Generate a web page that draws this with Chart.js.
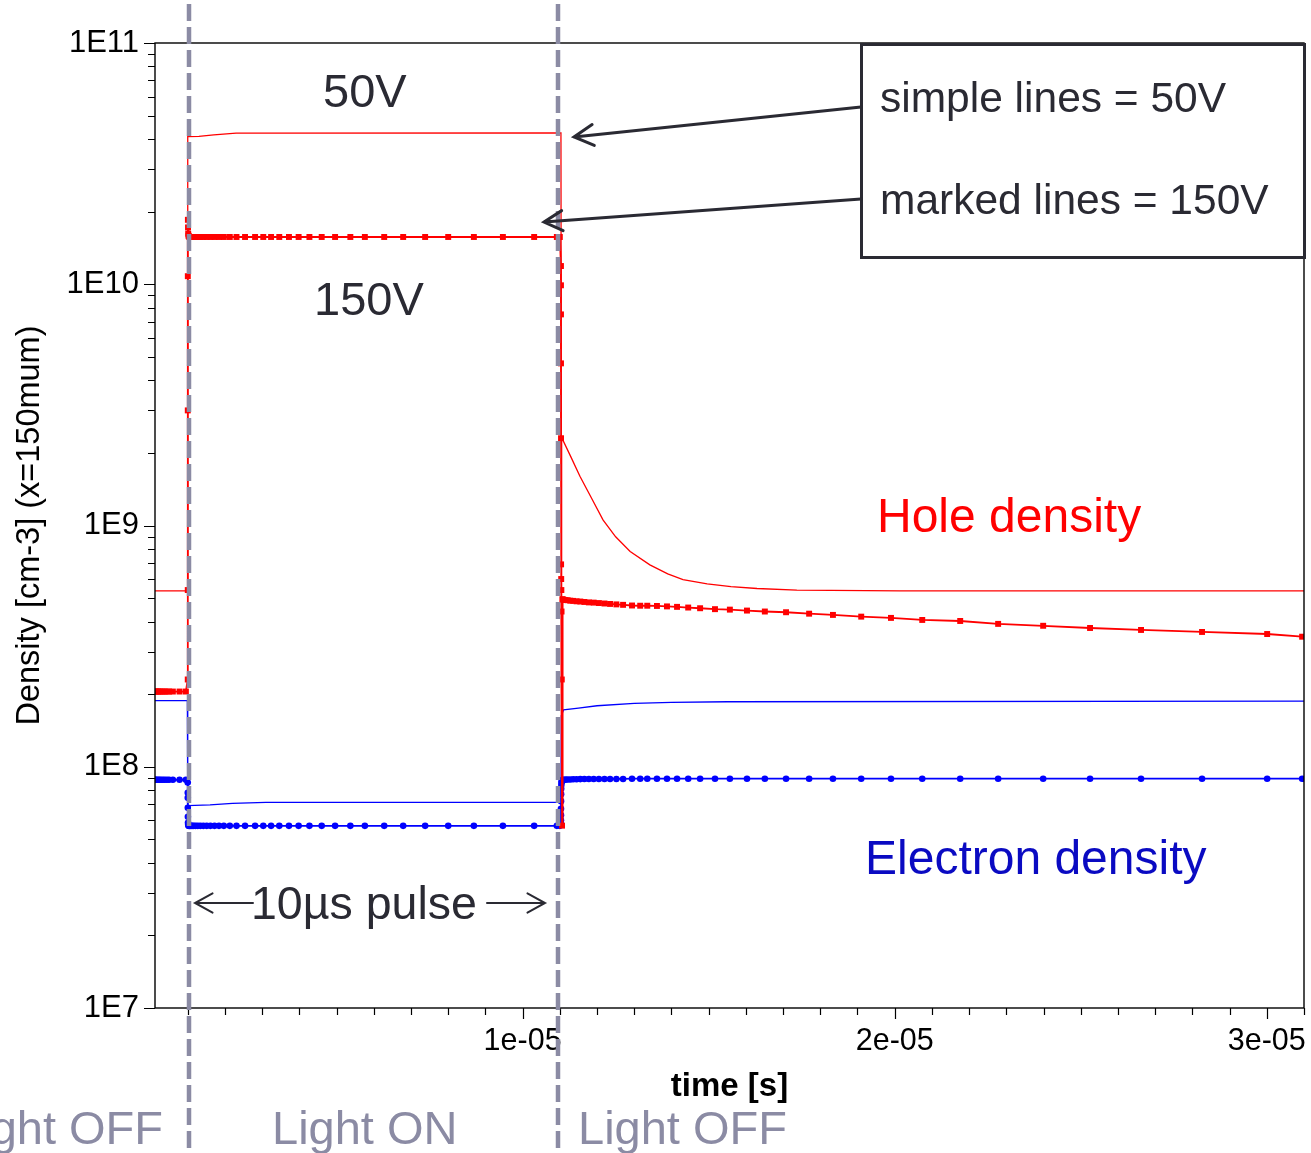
<!DOCTYPE html>
<html>
<head>
<meta charset="utf-8">
<title>Hole and electron density at x = 150 µm during a 10 µs light pulse</title>
<script src="https://cdn.jsdelivr.net/npm/chart.js@4.4.1/dist/chart.umd.min.js"></script>
<style>
  html, body { margin: 0; padding: 0; background: #ffffff; }
  canvas { display: block; }
</style>
</head>
<body>
<canvas id="density" width="1311" height="1153"></canvas>
<script>
// ---- time axis (seconds) -------------------------------------------------
const US = 1e-6;                       // series times are written in µs
const X_MIN = 1.2e-7;
const X_MAX = 3.1e-5;
const xMajorTicks = [1e-5, 2e-5, 3e-5];
const xMajorLabels = ['1e-05', '2e-05', '3e-05'];
const xMinorStepUs = 1;                // a minor tick every microsecond

// ---- density axis (cm^-3, logarithmic) -----------------------------------
const Y_MIN = 1e7;
const Y_MAX = 1e11;
const yMajorTicks = [1e7, 1e8, 1e9, 1e10, 1e11];
const yMajorLabels = ['1E7', '1E8', '1E9', '1E10', '1E11'];

// light pulse edges marked by the dashed guides (µs)
const pulseEdgesUs = [1.04, 10.94];

// ---- 50 V bias: simple lines, [t (µs), density] ---------------------------
const hole50 = [
  [0.12, 5.36e8], [0.99, 5.36e8], [1.0, 4.09e10], [1.3, 4.10e10], [1.7, 4.16e10],
  [2.3, 4.23e10], [11.03, 4.24e10], [11.04, 2.33e9], [11.3, 1.92e9], [11.54, 1.60e9],
  [11.85, 1.30e9], [12.16, 1.055e9], [12.5, 8.98e8], [12.89, 7.8e8], [13.42, 6.87e8],
  [13.9, 6.3e8], [14.31, 5.96e8], [14.96, 5.73e8], [15.6, 5.58e8], [16.3, 5.48e8],
  [17.37, 5.40e8], [20.14, 5.36e8], [31.0, 5.36e8]
];
const elec50 = [
  [0.12, 1.88e8], [0.99, 1.88e8], [1.0, 6.9e7], [1.6, 6.95e7], [2.2, 7.05e7],
  [3.1, 7.12e7], [11.03, 7.12e7], [11.04, 1.63e8], [11.1, 1.72e8], [11.5, 1.75e8],
  [12.0, 1.79e8], [13.0, 1.83e8], [14.0, 1.85e8], [15.5, 1.86e8], [31.0, 1.87e8]
];

// ---- 150 V bias: marked lines on the simulator's time steps (µs) ----------
const t150Dark = [0.12, 0.14, 0.17, 0.2, 0.24, 0.28, 0.33, 0.38, 0.44, 0.5, 0.6, 0.78, 0.95];
const hole150Dark = [2.05e8, 2.05e8, 2.05e8, 2.05e8, 2.05e8, 2.05e8, 2.05e8, 2.05e8, 2.05e8, 2.05e8, 2.05e8, 2.05e8, 2.05e8];
const elec150Dark = [8.83e7, 8.83e7, 8.83e7, 8.83e7, 8.83e7, 8.83e7, 8.83e7, 8.83e7, 8.83e7, 8.83e7, 8.83e7, 8.83e7, 8.83e7];

const t150Lit = [
  1.0, 1.0005, 1.001, 1.002, 1.004, 1.007, 1.012, 1.02, 1.03, 1.045,
  1.065, 1.09, 1.12, 1.16, 1.21, 1.27, 1.34, 1.42, 1.51, 1.61,
  1.72, 1.84, 1.97, 2.13, 2.31, 2.54, 2.81, 3.03, 3.24, 3.46,
  3.72, 3.98, 4.27, 4.60, 4.96, 5.37, 5.76, 6.28, 6.79, 7.38,
  8.00, 8.69, 9.47, 10.31, 10.92, 11.0
];
const hole150Lit = [
  2.3e8, 5.4e8, 3.0e9, 1.08e10, 1.85e10, 1.72e10, 1.62e10, 1.59e10, 1.58e10, 1.57e10,
  1.57e10, 1.57e10, 1.57e10, 1.57e10, 1.57e10, 1.57e10, 1.57e10, 1.57e10, 1.57e10, 1.57e10,
  1.57e10, 1.57e10, 1.57e10, 1.57e10, 1.57e10, 1.57e10, 1.57e10, 1.57e10, 1.57e10, 1.57e10,
  1.57e10, 1.57e10, 1.57e10, 1.57e10, 1.57e10, 1.57e10, 1.57e10, 1.57e10, 1.57e10, 1.57e10,
  1.57e10, 1.57e10, 1.57e10, 1.57e10, 1.57e10, 1.57e10
];
const elec150Lit = [
  8.6e7, 7.8e7, 7.43e7, 6.76e7, 6.2e7, 5.86e7, 5.75e7, 5.7e7, 5.69e7, 5.69e7,
  5.69e7, 5.69e7, 5.69e7, 5.69e7, 5.69e7, 5.69e7, 5.69e7, 5.69e7, 5.69e7, 5.69e7,
  5.69e7, 5.69e7, 5.69e7, 5.69e7, 5.69e7, 5.69e7, 5.69e7, 5.69e7, 5.69e7, 5.69e7,
  5.69e7, 5.69e7, 5.69e7, 5.69e7, 5.69e7, 5.69e7, 5.69e7, 5.69e7, 5.69e7, 5.69e7,
  5.69e7, 5.69e7, 5.69e7, 5.69e7, 5.69e7, 5.69e7
];

const t150After = [
  11.03, 11.0302, 11.0305, 11.031, 11.032, 11.034, 11.037, 11.041, 11.046, 11.052,
  11.06, 11.07, 11.08, 11.1, 11.15, 11.21, 11.28, 11.36, 11.45, 11.55,
  11.66, 11.78, 11.91, 12.05, 12.2, 12.35, 12.52, 12.7, 12.94, 13.16,
  13.35, 13.61, 13.88, 14.15, 14.45, 14.77, 15.17, 15.57, 16.03, 16.51,
  17.08, 17.70, 18.34, 19.10, 19.90, 20.74, 21.76, 22.78, 23.99, 25.25,
  26.62, 28.26, 30.01, 30.95
];
const hole150After = [
  1.19e10, 9.9e9, 7.5e9, 4.7e9, 2.3e9, 6.9e8, 6.0e8, 5.4e8, 4.4e8, 2.3e8,
  5.7e7, 4.95e8, 4.93e8, 4.92e8, 4.91e8, 4.90e8, 4.88e8, 4.87e8, 4.85e8, 4.84e8,
  4.82e8, 4.80e8, 4.79e8, 4.77e8, 4.75e8, 4.73e8, 4.71e8, 4.69e8, 4.66e8, 4.65e8,
  4.65e8, 4.64e8, 4.62e8, 4.60e8, 4.57e8, 4.54e8, 4.50e8, 4.48e8, 4.44e8, 4.40e8,
  4.37e8, 4.31e8, 4.26e8, 4.19e8, 4.14e8, 4.06e8, 4.02e8, 3.91e8, 3.84e8, 3.76e8,
  3.69e8, 3.62e8, 3.55e8, 3.46e8
];
const elec150After = [
  5.8e7, 6.0e7, 6.3e7, 6.7e7, 7.2e7, 7.7e7, 8.1e7, 8.4e7, 8.6e7, 8.7e7,
  8.75e7, 8.78e7, 8.8e7, 8.82e7, 8.84e7, 8.85e7, 8.86e7, 8.87e7, 8.88e7, 8.89e7,
  8.9e7, 8.9e7, 8.9e7, 8.9e7, 8.9e7, 8.9e7, 8.9e7, 8.9e7, 8.92e7, 8.92e7,
  8.92e7, 8.92e7, 8.92e7, 8.92e7, 8.92e7, 8.92e7, 8.92e7, 8.92e7, 8.92e7, 8.92e7,
  8.92e7, 8.92e7, 8.92e7, 8.92e7, 8.92e7, 8.92e7, 8.92e7, 8.92e7, 8.92e7, 8.92e7,
  8.92e7, 8.92e7, 8.92e7, 8.92e7
];

// ---- styling ---------------------------------------------------------------
const FONT = "'Liberation Sans', Arial, Helvetica, sans-serif";
const RED = '#ff0000';
const BLUE = '#0000ff';
const INK = '#2a2a33';
const GUIDE = '#8b8ba4';

// ---- helpers -------------------------------------------------------------
const pairsToPoints = pairs => pairs.map(([t, v]) => ({ x: t * US, y: v }));
const seriesToPoints = (ts, vs) => ts.map((t, i) => ({ x: t * US, y: vs[i] }));
const majorIndex = (v, majors) => majors.findIndex(m => Math.abs(v - m) <= m * 1e-6);

const t150 = [...t150Dark, ...t150Lit, ...t150After];
const hole150 = [...hole150Dark, ...hole150Lit, ...hole150After];
const elec150 = [...elec150Dark, ...elec150Lit, ...elec150After];

const xTickValues = [];
for (let k = xMinorStepUs; k * US <= X_MAX + 1e-12; k += xMinorStepUs) xTickValues.push(k * US);
const yTickValues = [];
for (let e = Math.log10(Y_MIN); e < Math.log10(Y_MAX); e++) {
  for (let m = 1; m < 10; m++) yTickValues.push(m * Math.pow(10, e));
}
yTickValues.push(Y_MAX);

// frame, tick marks, pulse guides and annotations
const overlay = {
  id: 'overlay',
  afterDraw(chart) {
    const { ctx, chartArea: a, scales: { x, y } } = chart;
    ctx.save();

    // axis frame
    ctx.strokeStyle = '#000';
    ctx.lineWidth = 1.4;
    ctx.strokeRect(a.left, a.top, a.right - a.left, a.bottom - a.top);

    // tick marks: long on decades / labelled steps, short in between
    ctx.lineWidth = 1.2;
    ctx.beginPath();
    x.ticks.forEach(t => {
      const px = Math.round(x.getPixelForValue(t.value)) + 0.5;
      const len = majorIndex(t.value, xMajorTicks) >= 0 ? 11 : 7;
      ctx.moveTo(px, a.bottom);
      ctx.lineTo(px, a.bottom + len);
    });
    y.ticks.forEach(t => {
      const py = Math.round(y.getPixelForValue(t.value)) + 0.5;
      const len = majorIndex(t.value, yMajorTicks) >= 0 ? 11 : 7;
      ctx.moveTo(a.left, py);
      ctx.lineTo(a.left - len, py);
    });
    ctx.stroke();

    // dashed guides at the pulse edges, across the whole figure
    ctx.strokeStyle = GUIDE;
    ctx.lineWidth = 4.5;
    ctx.setLineDash([17, 6]);
    ctx.beginPath();
    pulseEdgesUs.forEach(t => {
      const px = Math.round(x.getPixelForValue(t * US));
      ctx.moveTo(px, 4);
      ctx.lineTo(px, chart.height);
    });
    ctx.stroke();
    ctx.setLineDash([]);

    const arrow = (x0, y0, x1, y1, head, width) => {
      ctx.lineWidth = width;
      ctx.beginPath();
      ctx.moveTo(x0, y0);
      ctx.lineTo(x1, y1);
      const ang = Math.atan2(y0 - y1, x0 - x1);
      ctx.moveTo(x1 + head * Math.cos(ang + 0.5), y1 + head * Math.sin(ang + 0.5));
      ctx.lineTo(x1, y1);
      ctx.lineTo(x1 + head * Math.cos(ang - 0.5), y1 + head * Math.sin(ang - 0.5));
      ctx.stroke();
    };

    // legend box with its two pointers
    ctx.fillStyle = '#ffffff';
    ctx.fillRect(861, 44, 443, 213);
    ctx.strokeStyle = INK;
    ctx.lineWidth = 3;
    ctx.lineJoin = 'miter';
    ctx.strokeRect(861.5, 44.5, 443, 213);
    ctx.lineCap = 'round';
    arrow(861, 107, 574, 137, 22, 3);
    arrow(861, 199, 544, 222, 21, 3);

    ctx.fillStyle = INK;
    ctx.textBaseline = 'alphabetic';
    ctx.textAlign = 'left';
    ctx.font = `42.5px ${FONT}`;
    ctx.fillText('simple lines = 50V', 880, 112);
    ctx.fillText('marked lines = 150V', 880, 214);

    ctx.font = `47px ${FONT}`;
    ctx.fillText('50V', 323, 107);
    ctx.fillText('150V', 314, 315);

    // pulse width marker
    ctx.font = `46.5px ${FONT}`;
    ctx.fillText('10µs pulse', 251, 919);
    ctx.strokeStyle = INK;
    arrow(253, 903, 195, 903, 20, 2);
    arrow(487, 903, 545, 903, 20, 2);

    ctx.font = `48px ${FONT}`;
    ctx.fillStyle = RED;
    ctx.fillText('Hole density', 877, 532);
    ctx.fillStyle = '#0a0ac2';
    ctx.fillText('Electron density', 865, 874);

    // illumination phases
    ctx.fillStyle = GUIDE;
    ctx.font = `47px ${FONT}`;
    ctx.textAlign = 'right';
    ctx.fillText('Light OFF', 163, 1144);
    ctx.textAlign = 'left';
    ctx.fillText('Light ON', 272, 1144);
    ctx.fillText('Light OFF', 578, 1144);

    ctx.restore();
  }
};

new Chart(document.getElementById('density'), {
  type: 'scatter',
  data: {
    datasets: [
      {
        label: 'Hole density 150V',
        data: seriesToPoints(t150, hole150),
        showLine: true, borderColor: RED, borderWidth: 1.8,
        pointStyle: 'rect', pointRadius: 4.2, pointBorderWidth: 0,
        pointBackgroundColor: RED, pointHoverRadius: 4.2, order: 1
      },
      {
        label: 'Hole density 50V',
        data: pairsToPoints(hole50),
        showLine: true, borderColor: RED, borderWidth: 1.3,
        pointRadius: 0, pointHoverRadius: 0, order: 2
      },
      {
        label: 'Electron density 150V',
        data: seriesToPoints(t150, elec150),
        showLine: true, borderColor: BLUE, borderWidth: 1.8,
        pointStyle: 'circle', pointRadius: 3.3, pointBorderWidth: 0,
        pointBackgroundColor: BLUE, pointHoverRadius: 3.3, order: 3
      },
      {
        label: 'Electron density 50V',
        data: pairsToPoints(elec50),
        showLine: true, borderColor: BLUE, borderWidth: 1.3,
        pointRadius: 0, pointHoverRadius: 0, order: 4
      }
    ]
  },
  options: {
    responsive: false,
    animation: false,
    events: [],
    layout: { padding: { left: 0, top: 43, right: 7, bottom: 0 } },
    plugins: { legend: { display: false }, tooltip: { enabled: false } },
    elements: { line: { tension: 0 } },
    scales: {
      x: {
        type: 'linear',
        min: X_MIN,
        max: X_MAX,
        afterBuildTicks: s => { s.ticks = xTickValues.map(v => ({ value: v })); },
        afterFit: s => { s.height = 145; s.paddingLeft = 0; s.paddingRight = 0; },
        grid: { display: false, drawTicks: false },
        border: { display: false },
        ticks: {
          autoSkip: false, maxRotation: 0, minRotation: 0, padding: 15,
          color: '#000', font: { family: FONT, size: 30.5 },
          callback: v => { const i = majorIndex(v, xMajorTicks); return i >= 0 ? xMajorLabels[i] : ''; }
        },
        title: {
          display: true, text: 'time [s]', color: '#000',
          font: { family: FONT, size: 33, weight: 'bold' },
          padding: { top: 0, bottom: 46 }
        }
      },
      y: {
        type: 'logarithmic',
        min: Y_MIN,
        max: Y_MAX,
        afterBuildTicks: s => { s.ticks = yTickValues.map(v => ({ value: v })); },
        afterFit: s => { s.width = 155; s.paddingTop = 0; s.paddingBottom = 0; },
        grid: { display: false, drawTicks: false },
        border: { display: false },
        ticks: {
          autoSkip: false, padding: 16,
          color: '#000', font: { family: FONT, size: 31 },
          callback: v => { const i = majorIndex(v, yMajorTicks); return i >= 0 ? yMajorLabels[i] : ''; }
        },
        title: {
          display: true, text: 'Density [cm-3] (x=150mum)', color: '#000',
          font: { family: FONT, size: 32.5 },
          padding: { top: 11, bottom: 0 }
        }
      }
    }
  },
  plugins: [overlay]
});
</script>
</body>
</html>
